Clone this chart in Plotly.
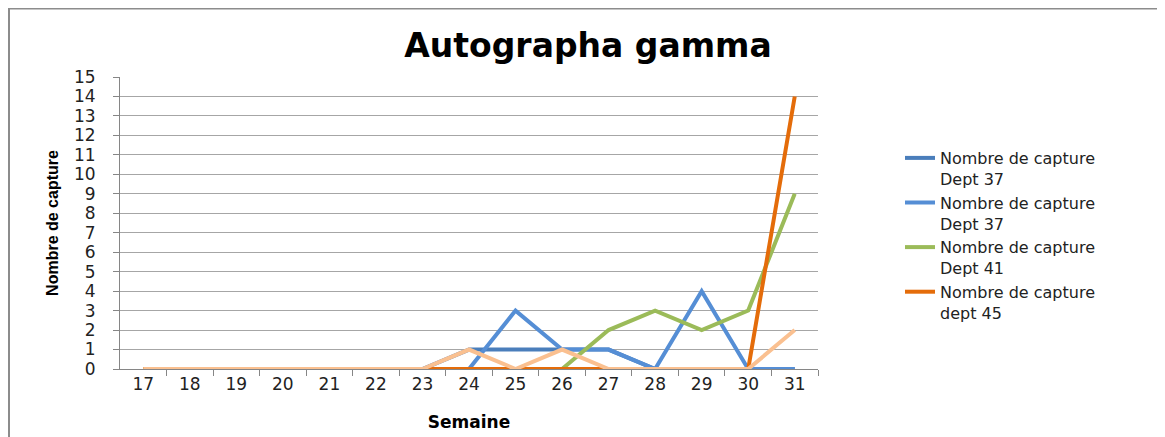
import plotly.graph_objects as go

weeks = [17, 18, 19, 20, 21, 22, 23, 24, 25, 26, 27, 28, 29, 30, 31]
dept37_a = [0, 0, 0, 0, 0, 0, 0, 1, 1, 1, 1, 0, 0, 0, 0]
dept37_b = [0, 0, 0, 0, 0, 0, 0, 0, 3, 1, 1, 0, 4, 0, 0]
dept41 = [0, 0, 0, 0, 0, 0, 0, 0, 0, 0, 2, 3, 2, 3, 9]
dept45 = [0, 0, 0, 0, 0, 0, 0, 0, 0, 0, 0, 0, 0, 0, 14]
extra = [0, 0, 0, 0, 0, 0, 0, 1, 0, 1, 0, 0, 0, 0, 2]

names = ["Nombre de capture<br>Dept 37", "Nombre de capture<br>Dept 37",
         "Nombre de capture<br>Dept 41", "Nombre de capture<br>dept 45"]
series = [dept37_a, dept37_b, dept41, dept45]
colors = ["#4A7EBB", "#558ED5", "#9BBB59", "#E46C0A"]

FONT = "DejaVu Sans"
fig = go.Figure()
for name, ys, c in zip(names, series, colors):
    fig.add_trace(go.Scatter(x=weeks, y=ys, mode="lines", name=name,
                             line=dict(color=c, width=4)))
fig.add_trace(go.Scatter(x=weeks, y=extra, mode="lines", name="",
                         showlegend=False, line=dict(color="#FAC090", width=4)))

# figure-pixel coordinates (page adds an 8px body margin)
OFF = 8
L, R, T, B = 120 - OFF, 818 - OFF, 77 - OFF, 369 - OFF
W, H = 1165, 437
pw, ph = R - L, B - T

def px(xs):
    return (xs - OFF - L) / pw

def py(ys):
    return (B - (ys - OFF)) / ph

fig.update_layout(
    width=W, height=H,
    margin=dict(l=L, r=W - R, t=T, b=H - B),
    paper_bgcolor="white", plot_bgcolor="white",
    title=dict(text="<b>Autographa gamma</b>", x=px(588), xref="paper",
               xanchor="center", y=1 - (45 - OFF) / H, yanchor="middle",
               font=dict(family=FONT, size=33, color="black")),
    font=dict(family=FONT, size=16, color="#222"),
    legend=dict(x=px(900), y=py(141), xanchor="left", yanchor="top",
                font=dict(family=FONT, size=16, color="#222"), valign="top",
                bgcolor="rgba(0,0,0,0)"),
    showlegend=True,
    shapes=[dict(type="rect", xref="paper", yref="paper",
                 x0=(1 - L) / pw, x1=(W + 20 - L) / pw,
                 y0=(B - (H + 20)) / ph, y1=(B - 0.5) / ph,
                 line=dict(color="#8C8C8C", width=2), fillcolor="rgba(0,0,0,0)",
                 layer="below")],
)
fig.update_xaxes(
    range=[16.5, 31.5], tickmode="array", tickvals=weeks,
    ticktext=[str(w) for w in weeks], ticks="", showgrid=False,
    showline=True, linecolor="#868686", linewidth=1,
    minor=dict(tickmode="array", tickvals=[w + 0.5 for w in weeks],
               ticks="outside", ticklen=6, tickcolor="#868686", showgrid=False),
    tickfont=dict(family=FONT, size=17, color="#222"),
    title=dict(text="<b>Semaine</b>", font=dict(family=FONT, size=17, color="black"), standoff=22),
    zeroline=False,
)
fig.update_yaxes(
    range=[0, 15], tickmode="linear", dtick=1, tick0=0,
    ticks="outside", ticklen=6, tickcolor="#868686", ticklabelstandoff=14,
    showgrid=True, gridcolor="#A6A6A6", gridwidth=1,
    showline=True, linecolor="#868686", linewidth=1, zeroline=False,
    tickfont=dict(family=FONT, size=17, color="#222"),
    title=dict(text="<b>Nombre de capture</b>",
               font=dict(family="Liberation Sans Narrow, Liberation Sans", size=16, color="black"),
               standoff=11),
)
fig.write_html("out.html")
